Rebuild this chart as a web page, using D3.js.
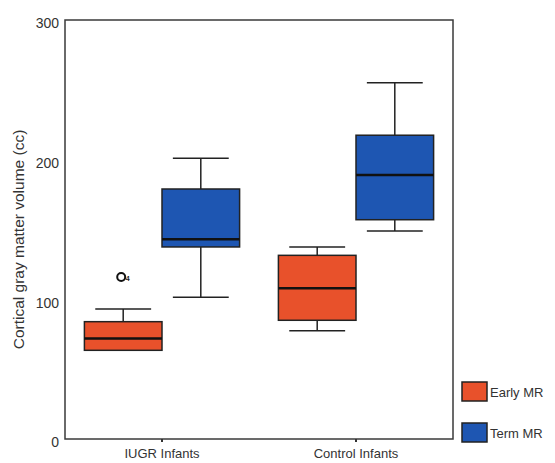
<!DOCTYPE html>
<html>
<head>
<meta charset="utf-8">
<script src="https://cdn.jsdelivr.net/npm/d3@7"></script>
<style>
  body { margin: 0; background: #ffffff; }
  svg { display: block; font-family: Arial, "Liberation Sans", sans-serif; }
</style>
</head>
<body>
<svg id="chart" width="555" height="463"></svg>
<script>
// ---- data ----
const groups = ["IUGR Infants", "Control Infants"];
const series = ["Early MR", "Term MR"];
const seriesColors = ["#E8512B", "#1E56B2"];
// order: [group][series]
const whiskerLow  = [[63.5, 101.5], [77.5, 149]];
const q1          = [[63.5, 137.5], [85, 157]];
const median      = [[72, 143], [108, 189]];
const q3          = [[84, 179], [131.5, 217.5]];
const whiskerHigh = [[93, 201], [137.5, 255]];
const outliers    = [{ group: 0, series: 0, value: 116, label: "4" }];
const yTicks = [0, 100, 200, 300];
const yTitle = "Cortical gray matter volume (cc)";

// ---- layout ----
const svg = d3.select("#chart");
const m = { left: 65, right: 102, top: 20, bottom: 24 };
const W = 555, H = 463;
const x0 = m.left, x1 = W - m.right, y0 = H - m.bottom, y1 = m.top;

const x = d3.scaleBand().domain(groups).range([x0, x1]).padding(0);
const xs = d3.scaleBand().domain(series).range([0, x.bandwidth() * 0.8]).padding(0);
const y = d3.scaleLinear().domain([0, 300]).range([y0, y1]);

// frame
svg.append("rect")
  .attr("x", x0).attr("y", y1)
  .attr("width", x1 - x0).attr("height", y0 - y1)
  .attr("fill", "none").attr("stroke", "#3a3a3a").attr("stroke-width", 1.5);

// y axis labels
const yAxis = d3.axisLeft(y).tickValues(yTicks).tickSize(0).tickPadding(6).tickFormat(d3.format("d"));
const gy = svg.append("g").attr("transform", `translate(${x0},0)`).call(yAxis);
gy.select(".domain").remove();
gy.selectAll("text").attr("font-size", 14).attr("fill", "#333").attr("dy", "0.55em");

// x axis
const xAxis = d3.axisBottom(x).tickSize(3).tickPadding(7);
const gx = svg.append("g").attr("transform", `translate(0,${y0})`).call(xAxis);
gx.select(".domain").remove();
gx.selectAll("line").attr("stroke", "#333").attr("stroke-width", 2);
gx.selectAll("text").attr("font-size", 13).attr("fill", "#333");

// y title
svg.append("text")
  .attr("transform", `translate(24,${(y0 + y1) / 2 + 10}) rotate(-90)`)
  .attr("text-anchor", "middle")
  .attr("font-size", 15.5)
  .attr("fill", "#333")
  .text(yTitle);

// boxes
const boxes = [];
groups.forEach((g, gi) => series.forEach((s, si) => boxes.push({ g, s, gi, si })));
const bx = d => x(d.g) + x.bandwidth() * 0.1 + xs(d.s);
const bw = xs.bandwidth();
const capW = bw * 0.72;

const gb = svg.append("g").selectAll("g").data(boxes).join("g");
const stroke = "#222";

// whisker stems
gb.append("line")
  .attr("x1", d => bx(d) + bw / 2).attr("x2", d => bx(d) + bw / 2)
  .attr("y1", d => y(whiskerHigh[d.gi][d.si])).attr("y2", d => y(q3[d.gi][d.si]))
  .attr("stroke", stroke).attr("stroke-width", 1.5);
gb.append("line")
  .attr("x1", d => bx(d) + bw / 2).attr("x2", d => bx(d) + bw / 2)
  .attr("y1", d => y(whiskerLow[d.gi][d.si])).attr("y2", d => y(q1[d.gi][d.si]))
  .attr("stroke", stroke).attr("stroke-width", 1.5);
// caps
gb.append("line")
  .attr("x1", d => bx(d) + (bw - capW) / 2).attr("x2", d => bx(d) + (bw + capW) / 2)
  .attr("y1", d => y(whiskerHigh[d.gi][d.si])).attr("y2", d => y(whiskerHigh[d.gi][d.si]))
  .attr("stroke", stroke).attr("stroke-width", 1.5);
gb.append("line")
  .attr("x1", d => bx(d) + (bw - capW) / 2).attr("x2", d => bx(d) + (bw + capW) / 2)
  .attr("y1", d => y(whiskerLow[d.gi][d.si])).attr("y2", d => y(whiskerLow[d.gi][d.si]))
  .attr("stroke", stroke).attr("stroke-width", 1.5);
// box
gb.append("rect")
  .attr("x", d => bx(d)).attr("width", bw)
  .attr("y", d => y(q3[d.gi][d.si]))
  .attr("height", d => y(q1[d.gi][d.si]) - y(q3[d.gi][d.si]))
  .attr("fill", d => seriesColors[d.si])
  .attr("stroke", stroke).attr("stroke-width", 1.5);
// median
gb.append("line")
  .attr("x1", d => bx(d)).attr("x2", d => bx(d) + bw)
  .attr("y1", d => y(median[d.gi][d.si])).attr("y2", d => y(median[d.gi][d.si]))
  .attr("stroke", "#111").attr("stroke-width", 2.5);

// outliers
const go = svg.append("g").selectAll("g").data(outliers).join("g");
go.append("circle")
  .attr("cx", d => bx({ g: groups[d.group], s: series[d.series] }) + bw / 2 - 2)
  .attr("cy", d => y(d.value))
  .attr("r", 4)
  .attr("fill", "none").attr("stroke", "#111").attr("stroke-width", 2);
go.append("text")
  .attr("x", d => bx({ g: groups[d.group], s: series[d.series] }) + bw / 2 + 2.5)
  .attr("y", d => y(d.value) + 4)
  .attr("font-size", 7).attr("font-weight", "bold").attr("fill", "#222")
  .text(d => d.label);

// legend
const lg = svg.append("g").selectAll("g").data(series).join("g")
  .attr("transform", (d, i) => `translate(462,${382 + i * 41})`);
lg.append("rect").attr("width", 25).attr("height", 19)
  .attr("fill", (d, i) => seriesColors[i]).attr("stroke", "#222").attr("stroke-width", 1.5);
lg.append("text").attr("x", 28).attr("y", 15).attr("font-size", 13).attr("fill", "#333").text(d => d);
</script>
</body>
</html>
